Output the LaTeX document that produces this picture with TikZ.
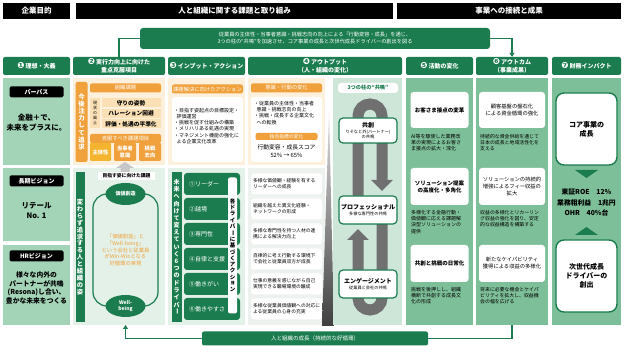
\documentclass[tikz,border=0pt]{standalone}
\usepackage{fontspec}
\usepackage{graphicx}
\setmainfont{Noto Sans CJK JP}
\newfontfamily\dingfont{DejaVu Sans}
\usetikzlibrary{arrows.meta, positioning, shapes.geometric}

\definecolor{dkgreen}{HTML}{1B7D4F}
\definecolor{midgreen}{HTML}{7DBF98}
\definecolor{palegreen}{HTML}{A3D4B8}
\definecolor{lightgreen}{HTML}{CDE6D7}
\definecolor{mistgreen}{HTML}{E3F1E8}
\definecolor{mistgray}{HTML}{EDF2EF}
\definecolor{cream}{HTML}{FDF0DC}
\definecolor{amb}{HTML}{F0A13C}
\definecolor{lightamb}{HTML}{FBE0B6}
\definecolor{yellowamb}{HTML}{F5B42F}
\definecolor{loopgray}{HTML}{707070}

\newcommand\fsz[2]{\fontsize{#1}{#2}\selectfont}
\newcommand\cnum[1]{{\dingfont\fsz{8.5}{8}#1}\,}
% vertical (tategaki) stack of characters
\newcommand\vtxtend{}
\newcommand\vtxt[2][1.1em]{\vbox{\offinterlineskip\def\vpitch{#1}\vtxtloop#2\vtxtend}}
\def\vtxtloop#1{\ifx#1\vtxtend\else\vtxtchar{#1}\expandafter\vtxtloop\fi}
\def\vtxtchar#1{\hbox to 1em{\hss\vbox to \vpitch{\vss\hbox{\ifx#1ー\rotatebox[origin=c]{-90}{ー}\else#1\fi}\vss}\hss}}

\tikzset{
	hdr/.style={fill=black, text=white, font=\fsz{7.5}{9}\bfseries, minimum height=16pt, inner sep=0pt},
	colhd/.style={fill=dkgreen, text=white, rounded corners=2pt, font=\fsz{6}{7.5}\bfseries, minimum height=18pt, inner sep=0pt, align=center},
	blabel/.style={fill=black, text=white, rounded corners=1.5pt, font=\fsz{6}{7}\bfseries, minimum width=54pt, minimum height=11pt, inner sep=0pt},
	obar/.style={fill=amb, text=white, rounded corners=2pt, font=\fsz{5.3}{6}, minimum height=9pt, inner sep=0pt},
	rowbox/.style={fill=lightamb, font=\fsz{5.7}{6.5}\bfseries, minimum width=59pt, minimum height=9pt, inner sep=0pt},
	keybox/.style={text=white, rounded corners=1pt, font=\fsz{5.3}{6.3}\bfseries, minimum height=18pt, inner sep=0pt, align=center},
	wbox/.style={fill=white, rounded corners=3pt, inner sep=0pt, align=center},
	gtext/.style={font=\fsz{5}{6.2}, align=left, inner sep=0pt, anchor=north west},
	drvbox/.style={fill=dkgreen, text=white, rounded corners=3pt, minimum width=56pt, minimum height=22pt, text width=46pt, align=left, font=\fsz{6}{7}, inner sep=0pt},
	chgbox/.style={fill=white, rounded corners=3pt, minimum width=71pt, minimum height=21pt, text width=67pt, align=left, font=\fsz{4.8}{6}, inner sep=0pt},
	pillar/.style={fill=white, draw=dkgreen, line width=1.2pt, rounded corners=4pt, minimum width=58pt, align=center, font=\fsz{4.2}{5}, inner sep=0pt},
	impact/.style={fill=white, draw=dkgreen, line width=1.4pt, rounded corners=8pt, minimum width=61pt, minimum height=72pt, align=center, font=\fsz{7}{9}\bfseries, inner sep=0pt},
	cyc/.style={ellipse, fill=dkgreen, text=white, minimum width=40pt, minimum height=22pt, inner sep=0pt, align=center, font=\fsz{5}{6}\bfseries},
	link/.style={draw=dkgreen, line width=1.2pt},
	loopar/.style={draw=loopgray, line width=11pt, -{Triangle[width=21pt,length=11pt]}}
}

\begin{document}
\begin{tikzpicture}[x=1pt, y=-1pt]
	\useasboundingbox (0,0) rectangle (624,352);
	\fill[white] (0,0) rectangle (624,352);
	% top headers
	\node[hdr, minimum width=67pt] (hdpurpose) at (36.5,11) {企業目的};
	\node[hdr, minimum width=317pt] (hdissues) at (234.5,11) {人と組織に関する課題と取り組み};
	\node[hdr, minimum width=224pt] (hdbiz) at (509,11) {事業への接続と成果};
	\node[fill=dkgreen, text=white, rounded corners=3pt, minimum width=350pt, minimum height=21pt, align=center, font=\fsz{5.2}{7}, inner sep=0pt] (banner) at (315,38.5) {従業員の主体性・当事者意識・挑戦志向の向上による「行動変容・成長」を通じ、\\3つの柱の“共鳴”を加速させ、コア事業の成長と次世代成長ドライバーの創出を図る};
	% column headers
	\node[colhd, minimum width=67pt] (c1) at (36.5,66) {\cnum{❶}理想・大義};
	\node[colhd, minimum width=92pt] (c2) at (119,66) {\cnum{❷}実行力向上に向けた\\重点克服項目};
	\node[colhd, minimum width=77pt] (c3) at (206.5,66) {\cnum{❸}インプット・アクション};
	\node[colhd, minimum width=154pt] (c4) at (325,66) {\cnum{❹}アウトプット\\（人・組織の変化）};
	\node[colhd, minimum width=67pt] (c5) at (439.5,66) {\cnum{❺}活動の変化};
	\node[colhd, minimum width=72pt] (c6) at (512,66) {\cnum{❻}アウトカム\\（事業成果）};
	\node[colhd, minimum width=69pt] (c7) at (586.5,66) {\cnum{❼}財務インパクト};
	\draw[link] (banner.west) -| (c2.north);
	\draw[link, -{Triangle[width=5pt,length=4pt]}] (banner.east) -| (c6.north);
	% column 1
	\fill[palegreen] (3,78) rectangle (70,165);
	\fill[palegreen] (3,168) rectangle (70,241);
	\fill[palegreen] (3,245) rectangle (70,325);
	\node[blabel] (purpose) at (36.5,92) {パーパス};
	\node[font=\fsz{7.5}{10}\bfseries, align=center] (purposetxt) at (36.5,123) {金融＋で、\\未来をプラスに。};
	\node[blabel] (ltvision) at (36.5,181) {長期ビジョン};
	\node[font=\fsz{7.5}{10}\bfseries, align=center] (ltvisiontxt) at (36.5,211) {リテール\\No. 1};
	\node[blabel] (hrvision) at (36.5,256) {HRビジョン};
	\node[font=\fsz{6.8}{8.6}\bfseries, align=center] (hrvisiontxt) at (36.5,288) {様々な内外の\\パートナーが共鳴\\(Resona)し合い、\\豊かな未来をつくる};
	% column 2, upper part
	\fill[cream] (73,78) rectangle (165,165);
	\node[obar, minimum width=12pt, minimum height=80pt, font=\fsz{6.5}{7}\bfseries] (focus) at (81.5,122) {\vtxt{今後注力して追求}};
	\node[obar, minimum width=71pt] (orgissue) at (125.5,88) {組織課題};
	\node[fill=lightamb, minimum width=10pt, minimum height=30pt, inner sep=0pt, font=\fsz{4}{4}] (status) at (95,113) {\vtxt[1.25em]{現状の風土}};
	\node[rowbox] (guard) at (131,103) {守りの姿勢};
	\node[rowbox] (halation) at (131,113.5) {ハレーション回避};
	\node[rowbox] (levelling) at (131,124) {評価・処遇の平準化};
	\node[obar, minimum width=71pt] (overcome) at (125.5,138.5) {克服すべき課題項目};
	\node[keybox, fill=yellowamb, minimum width=21pt] (ownership) at (100.5,152) {主体性};
	\node[keybox, fill=amb, minimum width=22pt] (commitment) at (125,152) {当事者\\意識};
	\node[keybox, fill=amb, minimum width=22pt] (challenge) at (150,152) {挑戦\\志向};
	% column 2, lower part
	\fill[mistgreen] (73,168) rectangle (165,325);
	\fill[gray!45] (120.5,172) -- (120.5,168) -- (116,168) -- (125,162) -- (134,168) -- (129.5,168) -- (129.5,172) -- cycle;
	\node[fill=dkgreen, minimum width=9pt, minimum height=150pt, inner sep=0pt, text=white, font=\fsz{6.3}{7}\bfseries] (constbar) at (80,247) {\vtxt{変わらず追求する人と組織の姿}};
	\node[fill=white, minimum width=57pt, minimum height=8pt, inner sep=0pt, font=\fsz{4.8}{5}\bfseries] (aimissue) at (126.5,176) {目指す姿に向けた課題};
	\draw[dkgreen, line width=1.2pt, rounded corners=14pt] (93,194) rectangle (158,306);
	\node[cyc] (value) at (125.5,194) {価値創造};
	\node[cyc] (wellbeing) at (125.5,306) {Well-\\being};
	\node[font=\fsz{5.3}{6.8}, text=amb, align=center] (cycletxt) at (125.5,250) {「価値創造」と\\「Well-being」\\という会社と従業員\\がWin-Winとなる\\好循環の実現};
	% column 3, upper part
	\fill[cream] (168,78) rectangle (245,165);
	\node[obar, minimum width=71pt] (actionhd) at (207.5,89) {課題解決に向けたアクション};
	\node[wbox, minimum width=71pt, minimum height=65pt] (actionbox) at (207.5,129.5) {};
	\node[gtext] (actiontxt) at (174,108) {・目指す姿起点の目標設定・\\\hspace*{0.5em}評価運営\\・挑戦を促す仕組みの構築\\・メリハリある処遇の実現\\・マネジメント機能の強化に\\\hspace*{0.5em}よる企業文化改革};
	% column 3, lower part
	\fill[mistgreen] (168,168) rectangle (245,325);
	\node[fill=dkgreen, minimum width=10pt, minimum height=150pt, inner sep=0pt, text=white, font=\fsz{6}{7}\bfseries] (futurebar) at (176.5,247) {\vtxt[1.2em]{未来へ向けて変えていく6つのドライバー}};
	\foreach \i/\t in {1/①リーダー, 2/②越境, 3/③専門性, 4/④自律と支援, 5/⑤働きがい, 6/⑥働きやすさ}
		\node[drvbox] (drv\i) at (212,{159+25*\i}) {\t};
	\node[fill=white, rounded corners=2pt, minimum width=9pt, minimum height=136pt, inner sep=0pt, font=\fsz{5.5}{6}\bfseries] (drvstrip) at (232.5,245.5) {\vtxt[1.15em]{各ドライバーに基づくアクション}};
	% column 4, left part
	\fill[cream] (248,78) rectangle (325,165);
	\node[obar, minimum width=71pt] (mindhd) at (286.5,88) {意識・行動の変化};
	\node[wbox, minimum width=71pt, minimum height=65pt] (mindbox) at (286.5,129.5) {};
	\node[gtext] (mindtxt) at (254,101) {・従業員の主体性・当事者\\\hspace*{0.5em}意識・挑戦志向の向上\\・挑戦・成長する企業文化\\\hspace*{0.5em}への転換};
	\node[obar, minimum width=62pt, minimum height=7pt, font=\fsz{4.8}{5}] (kpihd) at (286.5,136.5) {独自指標の変化};
	\node[font=\fsz{5.8}{7.5}, align=center, inner sep=0pt] (kpi) at (286.5,151) {行動変容・成長スコア\\52\%\ →\ 65\%};
	\fill[mistgray] (248,168) rectangle (325,325);
	\foreach \i/\t in {1/{多様な価値観・経験を有する\\リーダーへの成長}, 2/{組織を越えた異文化経験・\\ネットワークの形成}, 3/{多様な専門性を持つ人材の連\\携による解決力向上}, 4/{自律的に考え行動する環境下\\で会社と従業員双方が成長}, 5/{仕事の意義を感じながら自己\\実現できる職場環境の醸成}, 6/{多様な従業員価値観への対応に\\よる従業員の心身の充実}}
		\node[chgbox] (chg\i) at (286.5,{159+25*\i}) {\t};
	\shade[top color=gray!25, bottom color=black!75] (329,112) -- (334,326) -- (322,326) -- cycle;
	% column 4, right part
	\fill[lightgreen] (333,78) rectangle (402,325);
	\node[wbox, minimum width=60pt, minimum height=10pt, font=\fsz{5.2}{6}\bfseries, text=dkgreen] (pillarhd) at (368,88) {3つの柱の“共鳴”};
	\draw[loopar] (358,200) -- (358,116) arc[start angle=180, end angle=360, radius=12] -- (382,191);
	\draw[loopar] (382,220) -- (382,298) arc[start angle=0, end angle=180, radius=12] -- (358,229);
	\node[pillar, minimum height=25pt] (cocreate) at (368,130.5) {{\fsz{6}{7}\bfseries 共創}\\[1pt]りそなと外(パートナー)\\の共鳴};
	\node[pillar, minimum height=28pt] (professional) at (368,210) {{\fsz{6}{7}\bfseries プロフェッショナル}\\[1pt]多様な専門性の共鳴};
	\node[pillar, minimum height=28pt] (engagement) at (368,284) {{\fsz{6}{7}\bfseries エンゲージメント}\\[1pt]従業員と会社の共鳴};
	% column 5
	\fill[midgreen] (406,78) rectangle (473,325);
	\node[wbox, minimum width=58pt, minimum height=36pt, font=\fsz{5.5}{7}\bfseries] (touch) at (439.5,110) {お客さま接点の変革};
	\node[gtext] (touchtxt) at (411,134) {AI等を駆使した業務改\\革の実現によるお客さ\\ま接点の拡大・深化};
	\node[wbox, minimum width=58pt, minimum height=37pt, font=\fsz{5.5}{7}\bfseries] (solution) at (439.5,186.5) {ソリューション提案\\の高度化・多角化};
	\node[gtext] (solutiontxt) at (411,210) {多様化する金融行動・\\価値観に応える課題解\\決型ソリューションの\\提供};
	\node[wbox, minimum width=58pt, minimum height=37pt, font=\fsz{5.5}{7}\bfseries] (daily) at (439.5,263.5) {共創と挑戦の日常化};
	\node[gtext] (dailytxt) at (411,287) {挑戦を後押しし、組織\\横断で共創する成長文\\化の形成};
	% column 6
	\node[fill=midgreen, minimum width=72pt, minimum height=247pt, inner sep=0pt] (body6) at (512,201.5) {};
	\node[wbox, minimum width=66pt, minimum height=36pt, font=\fsz{5.3}{7}] (base) at (512,110) {顧客基盤の盤石化\\による資金循環の強化};
	\node[gtext, font=\fsz{4.9}{6.2}] (basetxt) at (480,134) {持続的な資金供給を通じて\\日本の成長と地域活性化を\\支える};
	\node[wbox, minimum width=66pt, minimum height=37pt, font=\fsz{5.3}{7}] (fee) at (512,186.5) {ソリューションの持続的\\増強によるフィー収益の\\拡大};
	\node[gtext, font=\fsz{4.9}{6.2}] (feetxt) at (480,210) {収益の多様化とリカーリン\\グ収益の強化を図り、安定\\的な収益構造を構築する};
	\node[wbox, minimum width=66pt, minimum height=37pt, font=\fsz{5.3}{7}] (capability) at (512,263.5) {新たなケイパビリティ\\獲得による収益の多様化};
	\node[gtext, font=\fsz{4.9}{6.2}] (capabilitytxt) at (480,287) {将来に必要な機会とケイパ\\ビリティを拡大し、収益機\\会の幅を広げる};
	% column 7
	\fill[midgreen] (552,78) rectangle (621,325);
	\node[impact] (core) at (586.5,129) {コア事業の\\成長};
	\fill[dkgreen] (575,170) -- (598,170) -- (586.5,178) -- cycle;
	\node[font=\fsz{6.8}{10.5}\bfseries, align=center, inner sep=0pt] (kpis) at (586.5,202.5) {東証ROE\quad 12\%\\業務粗利益\quad 1兆円\\OHR\quad 40\%台};
	\fill[dkgreen] (575,235) -- (598,235) -- (586.5,227) -- cycle;
	\node[impact] (nextgen) at (586.5,276) {次世代成長\\ドライバーの\\創出};
	% bottom loop
	\node[fill=dkgreen, text=white, rounded corners=2pt, minimum width=226pt, minimum height=14pt, inner sep=0pt, font=\fsz{5.5}{6}] (growth) at (315,338.5) {人と組織の成長（持続的な好循環）};
	\coordinate (cyclefoot) at (125.5,325);
	\draw[link] (body6.south) |- (growth.east);
	\draw[link, -{Triangle[width=5pt,length=4pt]}] (growth.west) -| (cyclefoot);
\end{tikzpicture}
\end{document}
